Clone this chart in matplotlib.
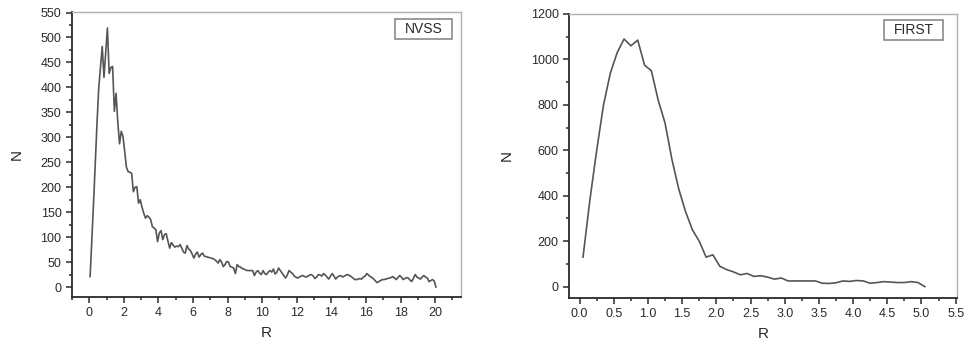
import matplotlib.pyplot as plt
import numpy as np
from matplotlib.ticker import MultipleLocator
from matplotlib.patches import Rectangle

# NVSS histogram, bins of 0.1 starting at 0.05
nvss_r = np.round(np.arange(0.05, 20.06, 0.1), 2)
nvss_n = [
    21, 95, 170, 250, 330, 400, 440, 482, 420, 470,
    519, 428, 440, 442, 352, 388, 330, 287, 312, 302,
    270, 240, 231, 230, 228, 191, 200, 201, 168, 175,
    160, 148, 138, 143, 140, 135, 121, 118, 115, 91,
    108, 113, 95, 105, 107, 92, 78, 89, 84, 80,
    82, 81, 85, 78, 70, 68, 83, 76, 73, 66,
    58, 66, 70, 60, 65, 68, 62, 61, 60, 59,
    58, 57, 55, 52, 48, 55, 50, 41, 45, 51,
    50, 41, 40, 38, 27, 45, 41, 40, 37, 36,
    34, 33, 33, 33, 33, 23, 30, 33, 28, 25,
    33, 27, 25, 30, 33, 30, 36, 26, 30, 38,
    33, 28, 23, 18, 24, 33, 30, 27, 22, 20,
    18, 20, 22, 23, 21, 20, 22, 24, 25, 22,
    17, 20, 25, 24, 22, 27, 24, 20, 16, 22,
    27, 22, 16, 20, 22, 23, 20, 22, 24, 25,
    23, 21, 18, 15, 15, 16, 17, 16, 20, 22,
    27, 24, 21, 19, 16, 12, 9, 11, 13, 15,
    15, 16, 17, 18, 19, 21, 18, 15, 19, 23,
    20, 15, 17, 19, 18, 14, 11, 18, 25, 20,
    18, 16, 20, 23, 20, 18, 11, 13, 15, 12,
    0,
]

# FIRST histogram
first_r = np.round(np.arange(0.05, 5.06, 0.1), 2)
first_n = [
    130, 380, 600, 800, 940, 1030, 1090, 1060, 1085, 975,
    950, 820, 720, 560, 430, 330, 250, 200, 130, 140,
    90, 75, 65, 52, 58, 45, 48, 42, 33, 38,
    25, 25, 25, 25, 25, 15, 14, 17, 25, 23,
    27, 25, 15, 18, 22, 20, 18, 18, 22, 18,
    0,
]

line_col = '#555555'
text_col = '#2a2a2a'

plt.rcParams['font.family'] = ['Liberation Sans', 'DejaVu Sans']

fig = plt.figure(figsize=(9.7, 3.47), dpi=100)
ax1 = fig.add_axes([0.0742, 0.144, 0.4011, 0.8214])
ax2 = fig.add_axes([0.5866, 0.1412, 0.400, 0.8185])


def style(ax, label, xmaj, xmin, ymaj, ymin, box):
    for s in ['top', 'right']:
        ax.spines[s].set_color('#b0b0b0')
        ax.spines[s].set_linewidth(1.0)
    for s in ['left', 'bottom']:
        ax.spines[s].set_color('#2a2a2a')
        ax.spines[s].set_linewidth(1.3)
    ax.xaxis.set_major_locator(MultipleLocator(xmaj))
    ax.xaxis.set_minor_locator(MultipleLocator(xmin))
    ax.yaxis.set_major_locator(MultipleLocator(ymaj))
    ax.yaxis.set_minor_locator(MultipleLocator(ymin))
    ax.tick_params(which='both', direction='out', top=False, right=False,
                   color='#2a2a2a', width=1.1, labelsize=9, labelcolor=text_col)
    ax.tick_params(which='major', length=4)
    ax.tick_params(which='minor', length=2.5)
    ax.set_xlabel('R', fontsize=11, color=text_col, labelpad=5)
    ax.set_ylabel('N', fontsize=11, color=text_col, labelpad=12)
    x0, y0, w, h = box
    ax.add_patch(Rectangle((x0, y0), w, h, transform=ax.transAxes, fc='white',
                           ec='#8a8a8a', lw=1.2))
    ax.text(x0 + w / 2, y0 + h / 2, label, transform=ax.transAxes, ha='center',
            va='center', fontsize=10, color=text_col)


ax1.plot(nvss_r, nvss_n, color=line_col, lw=1.2)
ax1.set_xlim(-1, 21.5)
ax1.set_ylim(-20, 551)
style(ax1, 'NVSS', 2, 1, 50, 25, (0.830, 0.905, 0.1465, 0.070))

ax2.plot(first_r, first_n, color=line_col, lw=1.2)
ax2.set_xlim(-0.155, 5.52)
ax2.set_ylim(-50, 1200)
style(ax2, 'FIRST', 0.5, 0.25, 200, 100, (0.812, 0.908, 0.152, 0.0704))
ax2.set_xticklabels([f'{v:.1f}' for v in ax2.get_xticks()])

fig.savefig('out.png', dpi=100)
